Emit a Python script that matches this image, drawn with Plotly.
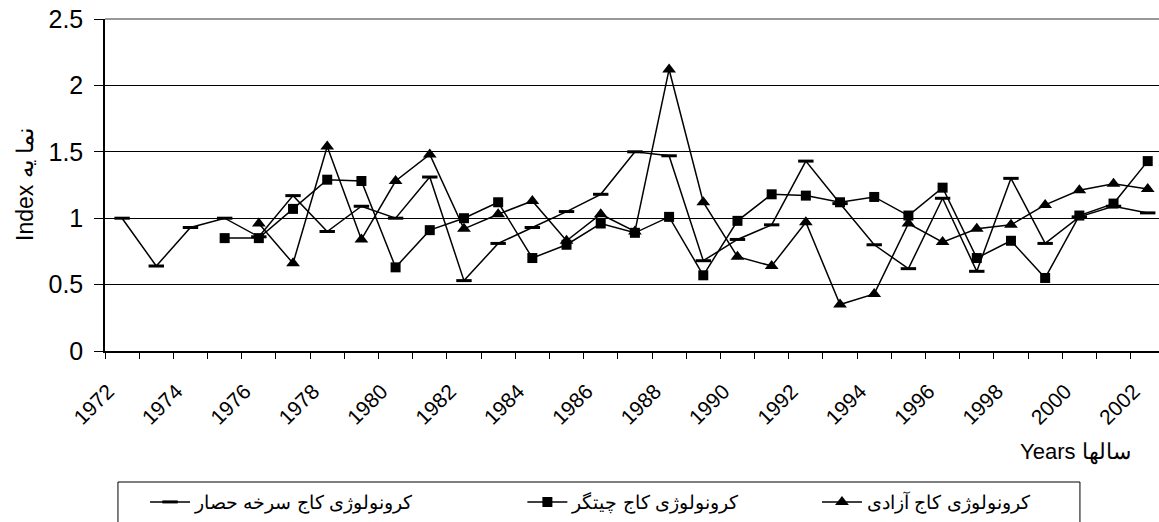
import plotly.graph_objects as go

years = list(range(1972, 2003))
tick_labels = [str(y) for y in range(1972, 2003, 2)]

# کرونولوژی کاج سرخه حصار (1972-2002)
sorkheh_years = list(range(1972, 2003))
sorkheh = [1.00, 0.64, 0.93, 1.00, 0.86, 1.17, 0.90, 1.09, 1.00, 1.31,
           0.53, 0.81, 0.93, 1.05, 1.18, 1.50, 1.47, 0.68, 0.84, 0.95,
           1.43, 1.11, 0.80, 0.62, 1.15, 0.60, 1.30, 0.81, 1.01, 1.09, 1.04]

# کرونولوژی کاج چیتگر (1975-2002)
chitgar_years = list(range(1975, 2003))
chitgar = [0.85, 0.85, 1.07, 1.29, 1.28, 0.63, 0.91, 1.00, 1.12, 0.70,
           0.80, 0.96, 0.89, 1.01, 0.57, 0.98, 1.18, 1.17, 1.12, 1.16,
           1.02, 1.23, 0.70, 0.83, 0.55, 1.02, 1.11, 1.43]

# کرونولوژی کاج آزادی (1976-2002)
azadi_years = list(range(1976, 2003))
azadi = [0.96, 0.66, 1.54, 0.84, 1.28, 1.48, 0.92, 1.03, 1.13, 0.83,
         1.03, 0.90, 2.12, 1.12, 0.71, 0.64, 0.97, 0.35, 0.43, 0.96,
         0.82, 0.92, 0.95, 1.10, 1.21, 1.26, 1.22]

names = ["کرونولوژی کاج سرخه حصار", "کرونولوژی کاج چیتگر", "کرونولوژی کاج آزادی"]

FONT = "Liberation Sans, Arial, sans-serif"

fig = go.Figure()
fig.add_trace(go.Scatter(
    x=sorkheh_years, y=sorkheh, name=names[0], mode="lines+markers",
    line=dict(color="black", width=1.5),
    marker=dict(symbol="line-ew", size=11, color="black", line=dict(color="black", width=3)),
    legend="legend"))
fig.add_trace(go.Scatter(
    x=chitgar_years, y=chitgar, name=names[1], mode="lines+markers",
    line=dict(color="black", width=1.5),
    marker=dict(symbol="square", size=10, color="black"),
    legend="legend2"))
fig.add_trace(go.Scatter(
    x=azadi_years, y=azadi, name=names[2], mode="lines+markers",
    line=dict(color="black", width=1.5),
    marker=dict(symbol="triangle-up", size=12, color="black"),
    legend="legend3"))

boundaries = [y - 0.5 for y in years] + [2002.5]

legend_common = dict(xanchor="left", yanchor="middle", orientation="h",
                     font=dict(size=19), itemwidth=40, bgcolor="rgba(0,0,0,0)")

fig.update_layout(
    width=1159, height=522,
    margin=dict(l=105, r=0, t=19, b=171),
    paper_bgcolor="white", plot_bgcolor="white",
    font=dict(family=FONT, color="black"),
    showlegend=True,
    xaxis=dict(
        range=[1971.5, 2002.33],
        tickvals=[int(t) for t in tick_labels], ticktext=tick_labels,
        tickangle=-45, ticks="", tickfont=dict(size=21),
        ticklabelstandoff=18, ticklabelshift=-14,
        showgrid=False, zeroline=False,
        showline=True, linecolor="black", linewidth=1.5,
        minor=dict(tickvals=boundaries, ticks="outside", ticklen=6,
                   tickcolor="black", tickwidth=1, showgrid=False),
    ),
    yaxis=dict(
        range=[0, 2.5], tickvals=[0, 0.5, 1, 1.5, 2, 2.5],
        ticktext=["0", "0.5", "1", "1.5", "2", "2.5"],
        ticks="outside", ticklen=9, tickcolor="black", tickwidth=1,
        tickfont=dict(size=25), ticklabelstandoff=6,
        showgrid=True, gridcolor="black", gridwidth=1,
        zeroline=False, showline=True, linecolor="black", linewidth=1.5,
    ),
    legend=dict(x=0.038, y=-0.455, **legend_common),
    legend2=dict(x=0.396, y=-0.455, **legend_common),
    legend3=dict(x=0.6755, y=-0.455, **legend_common),
    shapes=[
        dict(type="rect", xref="paper", yref="paper",
             x0=0.0123, x1=0.925, y0=-0.3946, y1=-0.53,
             line=dict(color="black", width=1), fillcolor="rgba(0,0,0,0)"),
        dict(type="line", xref="paper", yref="paper",
             x0=0, x1=1, y0=1, y1=1, line=dict(color="#999999", width=2)),
    ],
    annotations=[
        dict(text="Index نما یه", xref="paper", yref="paper",
             x=-0.0759, y=0.5, textangle=-90, showarrow=False,
             font=dict(size=23), xanchor="center", yanchor="middle"),
        dict(text="Years سالها", xref="paper", yref="paper",
             x=0.975, y=-0.304, showarrow=False,
             font=dict(size=22), xanchor="right", yanchor="middle"),
    ],
)

fig.write_html(
    "out.html",
    config={"displayModeBar": False},
    post_script="document.body.style.margin='0';document.body.style.overflow='hidden';",
)
